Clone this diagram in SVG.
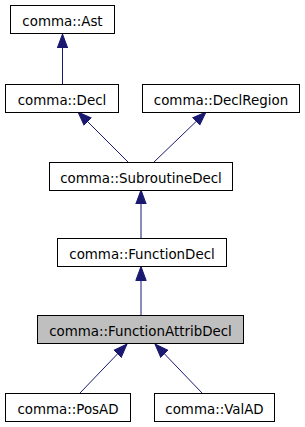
<svg xmlns="http://www.w3.org/2000/svg" width="305" height="427" viewBox="0 0 305 427">
<style>
.n rect{fill:#ffffff;stroke:#000000;stroke-width:1}
.n.cur rect{fill:#bfbfbf}
.n text{font-family:"DejaVu Sans","Liberation Sans",sans-serif;font-size:13.4px;text-anchor:middle;fill:#000000}
.e line{stroke:#191970;stroke-width:1;marker-end:url(#ah)}
</style>
<defs>
<marker id="ah" markerUnits="userSpaceOnUse" viewBox="0 -6 15 12" refX="14" refY="0" markerWidth="15" markerHeight="12" orient="auto">
<path d="M0,-5.2 L14,0 L0,5.2 Z" fill="#191970" stroke="#191970" stroke-width="1"/>
</marker>
</defs>
<rect width="305" height="427" fill="#ffffff"/>
<g id="edges" class="e">
<line x1="62.5" y1="84" x2="62.5" y2="34"/>
<line x1="128" y1="162" x2="78" y2="112"/>
<line x1="154" y1="162" x2="206" y2="112"/>
<line x1="141" y1="238" x2="141" y2="190"/>
<line x1="141" y1="315" x2="141" y2="266.5"/>
<line x1="80" y1="393" x2="127" y2="344"/>
<line x1="202" y1="393" x2="155" y2="344"/>
</g>
<g id="ast" class="n"><rect x="10.5" y="5.5" width="104" height="28"/><text x="62.5" y="26">comma::Ast</text></g>
<g id="decl" class="n"><rect x="5.5" y="84.5" width="113" height="28"/><text x="62" y="105">comma::Decl</text></g>
<g id="declregion" class="n"><rect x="142.5" y="84.5" width="157" height="28"/><text x="221" y="105">comma::DeclRegion</text></g>
<g id="subroutinedecl" class="n"><rect x="49.5" y="162.5" width="183" height="28"/><text x="141" y="183">comma::SubroutineDecl</text></g>
<g id="functiondecl" class="n"><rect x="57.5" y="238.5" width="169" height="28"/><text x="142" y="259">comma::FunctionDecl</text></g>
<g id="functionattribdecl" class="n cur"><rect x="37.5" y="315.5" width="206" height="28"/><text x="140.5" y="336">comma::FunctionAttribDecl</text></g>
<g id="posad" class="n"><rect x="5.5" y="393.5" width="125" height="28"/><text x="68" y="414">comma::PosAD</text></g>
<g id="valad" class="n"><rect x="154.5" y="393.5" width="120" height="28"/><text x="214.5" y="414">comma::ValAD</text></g>
</svg>
